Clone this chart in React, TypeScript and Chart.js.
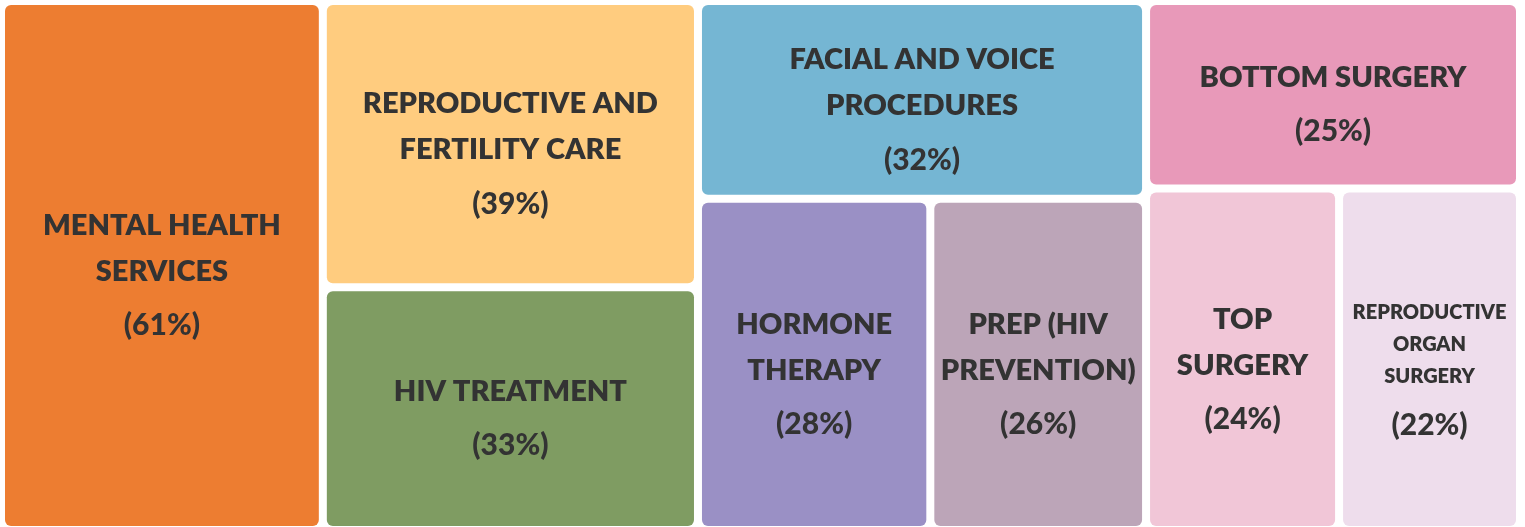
import React, { useEffect, useRef } from "react";
import { Chart, registerables } from "chart.js";

Chart.register(...registerables);

// ---- data ----
const categories = [
  "Mental health services",
  "Reproductive and fertility care",
  "HIV treatment",
  "Facial and voice procedures",
  "Hormone therapy",
  "PrEP (HIV prevention)",
  "Bottom surgery",
  "Top surgery",
  "Reproductive organ surgery",
];
const values = [61, 39, 33, 32, 28, 26, 25, 24, 22];
const labelLines = [
  ["MENTAL HEALTH", "SERVICES"],
  ["REPRODUCTIVE AND", "FERTILITY CARE"],
  ["HIV TREATMENT"],
  ["FACIAL AND VOICE", "PROCEDURES"],
  ["HORMONE", "THERAPY"],
  ["PREP (HIV", "PREVENTION)"],
  ["BOTTOM SURGERY"],
  ["TOP", "SURGERY"],
  ["REPRODUCTIVE", "ORGAN", "SURGERY"],
];
// treemap structure: columns -> rows -> item indices
const columns = [[[0]], [[1], [2]], [[3], [4, 5]], [[6], [7, 8]]];

// ---- style ----
const colors = [
  "#ED7D31",
  "#FFCC7F",
  "#7F9C62",
  "#75B6D3",
  "#9A90C5",
  "#BCA5B8",
  "#E899B9",
  "#F1C6D7",
  "#EEDDEC",
];
const smallLabel = [false, false, false, false, false, false, false, false, true];
const TEXT = "#333333";
const FONT = "Lato";

type Tile = { i: number; x0: number; x1: number; y0: number; y1: number };

function layout(): { tiles: Tile[]; total: number } {
  const tiles: Tile[] = [];
  const sum = (a: number[]) => a.reduce((s, k) => s + values[k], 0);
  const total = columns.reduce((s, col) => s + col.reduce((t, r) => t + sum(r), 0), 0);
  let x = 0;
  for (const col of columns) {
    const colTotal = col.reduce((t, r) => t + sum(r), 0);
    let y = 0;
    for (const row of col) {
      const rowTotal = sum(row);
      const h = (rowTotal / colTotal) * 100;
      let rx = x;
      for (const k of row) {
        const w = (values[k] / rowTotal) * colTotal;
        tiles.push({ i: k, x0: rx, x1: rx + w, y0: y, y1: y + h });
        rx += w;
      }
      y += h;
    }
    x += colTotal;
  }
  return { tiles, total };
}

const treemapPlugin = {
  id: "treemapTiles",
  afterDatasetsDraw(chart: any) {
    const { ctx, scales } = chart;
    const xs = scales.x;
    const ys = scales.y;
    const { tiles, total } = layout();
    const gap = 4;
    for (const t of tiles) {
      let px0 = xs.getPixelForValue(t.x0);
      let px1 = xs.getPixelForValue(t.x1);
      let py0 = ys.getPixelForValue(t.y0);
      let py1 = ys.getPixelForValue(t.y1);
      if (t.x0 > 0.001) px0 += gap;
      if (t.x1 < total - 0.001) px1 -= gap;
      if (t.y0 > 0.001) py0 += gap;
      if (t.y1 < 99.999) py1 -= gap;
      ctx.save();
      ctx.fillStyle = colors[t.i];
      ctx.beginPath();
      ctx.roundRect(px0, py0, px1 - px0, py1 - py0, 6);
      ctx.fill();

      const small = smallLabel[t.i];
      const fs = small ? 20 : 29;
      const lh = small ? 32 : 46;
      const pctGap = small ? 49 : 54;
      const lines = labelLines[t.i];
      const firstToPct = (lines.length - 1) * lh + pctGap;
      const cx = (px0 + px1) / 2;
      const cy = (py0 + py1) / 2 + 10;
      const startY = cy - firstToPct / 2;
      ctx.fillStyle = TEXT;
      ctx.textAlign = "center";
      ctx.textBaseline = "middle";
      ctx.font = `800 ${fs}px ${FONT}`;
      lines.forEach((ln, j) => ctx.fillText(ln, cx, startY + j * lh));
      ctx.font = `900 30px ${FONT}`;
      ctx.fillText(`(${values[t.i]}%)`, cx, startY + firstToPct);
      ctx.restore();
    }
  },
};

export default function App() {
  const ref = useRef<HTMLCanvasElement | null>(null);
  useEffect(() => {
    document.body.style.margin = "0";
    document.body.style.overflow = "hidden";
    const { total } = layout();
    const chart = new Chart(ref.current as HTMLCanvasElement, {
      type: "scatter",
      data: {
        labels: categories,
        datasets: [{ data: [], pointRadius: 0 }],
      },
      options: {
        animation: false,
        responsive: false,
        layout: { padding: { left: 5, top: 5, right: 9, bottom: 1 } },
        scales: {
          x: { type: "linear", min: 0, max: total, display: false },
          y: { type: "linear", min: 0, max: 100, reverse: true, display: false },
        },
        plugins: { legend: { display: false }, tooltip: { enabled: false } },
      },
      plugins: [treemapPlugin],
    });
    return () => chart.destroy();
  }, []);
  return (
    <div style={{ width: 1525, height: 527, background: "#fff" }}>
      <canvas ref={ref} width={1525} height={527} />
    </div>
  );
}
